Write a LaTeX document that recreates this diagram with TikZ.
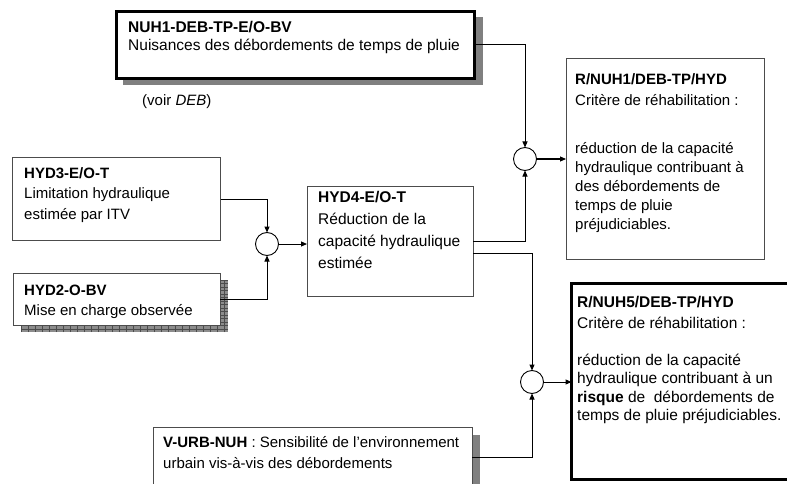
\documentclass[tikz,border=0pt]{standalone}
\usepackage{fontspec}
\setmainfont{Liberation Sans}
\usetikzlibrary{arrows.meta}
\newcommand\topstrut{\rule{0pt}{12pt}}
\begin{document}
\begin{tikzpicture}[x=1pt,y=-1pt,
  thinbox/.style={draw=black!70, line width=0.9pt, fill=white, anchor=north west,
    inner sep=0pt, outer sep=0pt},
  thickbox/.style={draw=black, line width=3pt, fill=white, anchor=north west,
    inner sep=0pt, outer sep=0pt},
  junction/.style={circle, draw=black, line width=0.9pt, fill=white,
    minimum size=23pt, inner sep=0pt, outer sep=0pt},
  label/.style={anchor=north west, inner sep=0pt, align=left},
  link/.style={line width=1pt, -{Triangle[length=6pt,width=5pt]}},
  shade/.style={fill=black!50, draw=none},
]
\useasboundingbox (0,0) rectangle (787,484);
\clip (0,0) rectangle (787,484);

% drop shadows
\path[shade] (123,17) rectangle (483,85);
\path[shade] (161,435) rectangle (480,492);
\begin{scope}
  \clip (21,280) rectangle (228,332);
  \fill[black!45] (21,280) rectangle (228,332);
  \draw[black!70, line width=0.5pt, xstep=7pt, ystep=3.5pt] (21,280) grid (228,332);
\end{scope}

% boxes
\node[thickbox, minimum width=358pt, minimum height=67pt] (nuh1) at (116.5,11.5) {};
\node[thinbox, minimum width=208pt, minimum height=83pt] (hyd3) at (12.5,157.5) {};
\node[thinbox, minimum width=207pt, minimum height=52pt] (hyd2) at (13,273) {};
\node[thinbox, minimum width=166pt, minimum height=110pt] (hyd4) at (307,186) {};
\node[thinbox, minimum width=198pt, minimum height=201pt] (rnuh1) at (566,58) {};
\node[thickbox, minimum width=240pt, minimum height=196pt] (rnuh5) at (571.5,283.5) {};
\node[thinbox, minimum width=319pt, minimum height=60pt] (vurb) at (153,427) {};

% junctions
\node[junction] (j1) at (267,244) {};
\node[junction] (jtop) at (525,159) {};
\node[junction] (jlow) at (532,382) {};

% texts
\begin{scope}[every node/.append style={font=\fontsize{15.5}{18}\selectfont}]
\node[label] (t-nuh1) at (128,20) {\topstrut\textbf{NUH1-DEB-TP-E/O-BV}\\Nuisances des débordements de temps de pluie};
\end{scope}
\begin{scope}[every node/.append style={font=\fontsize{15}{18}\selectfont}]
\node[label] (t-voir) at (142,93) {\topstrut(voir \textit{DEB})};
\end{scope}
\begin{scope}[every node/.append style={font=\fontsize{15}{20.5}\selectfont}]
\node[label] (t-hyd3) at (24,166) {\topstrut\textbf{HYD3-E/O-T}\\Limitation hydraulique\\estimée par ITV};
\node[label] (t-hyd2) at (24,283) {\topstrut\textbf{HYD2-O-BV}\\Mise en charge observée};
\end{scope}
\begin{scope}[every node/.append style={font=\fontsize{15.5}{22}\selectfont}]
\node[label] (t-hyd4) at (318,190) {\topstrut\textbf{HYD4-E/O-T}\\Réduction de la\\capacité hydraulique\\estimée};
\end{scope}
\begin{scope}[every node/.append style={font=\fontsize{15}{21}\selectfont}]
\node[label] (h-rnuh1) at (575,72) {\topstrut\textbf{R/NUH1/DEB-TP/HYD}\\Critère de réhabilitation :};
\node[label] (t-vurb) at (163,435) {\topstrut\textbf{V-URB-NUH} : Sensibilité de l’environnement\\urbain vis-à-vis des débordements};
\end{scope}
\begin{scope}[every node/.append style={font=\fontsize{15.5}{21}\selectfont}]
\node[label] (h-rnuh5) at (577,295) {\topstrut\textbf{R/NUH5/DEB-TP/HYD}\\Critère de réhabilitation :};
\end{scope}
\begin{scope}[every node/.append style={font=\fontsize{15}{19}\selectfont}]
\node[label] (b-rnuh1) at (575,141) {\topstrut réduction de la capacité\\hydraulique contribuant à\\des débordements de\\temps de pluie\\préjudiciables.};
\end{scope}
\begin{scope}[every node/.append style={font=\fontsize{15.5}{18.5}\selectfont}]
\node[label] (b-rnuh5) at (577,353) {\topstrut réduction de la capacité\\hydraulique contribuant à un\\\textbf{risque} de~ débordements de\\temps de pluie préjudiciables.};
\end{scope}

% connectors
\draw[link] (nuh1.east) -| (jtop.north);
\draw[link] (hyd3.east) -| (j1.north);
\draw[link] (hyd2.east) -| (j1.south);
\draw[link] (j1.east) -- (j1.east -| hyd4.west);
\draw[link] (hyd4.east) -| (jtop.south);
\draw[link] ([yshift=-12pt]hyd4.east) -| (jlow.north);
\draw[link] (jtop.east) -- (jtop.east -| rnuh1.west);
\draw[link] (vurb.east) -| (jlow.south);
\draw[link] (jlow.east) -- (jlow.east -| rnuh5.west);
\end{tikzpicture}
\end{document}
